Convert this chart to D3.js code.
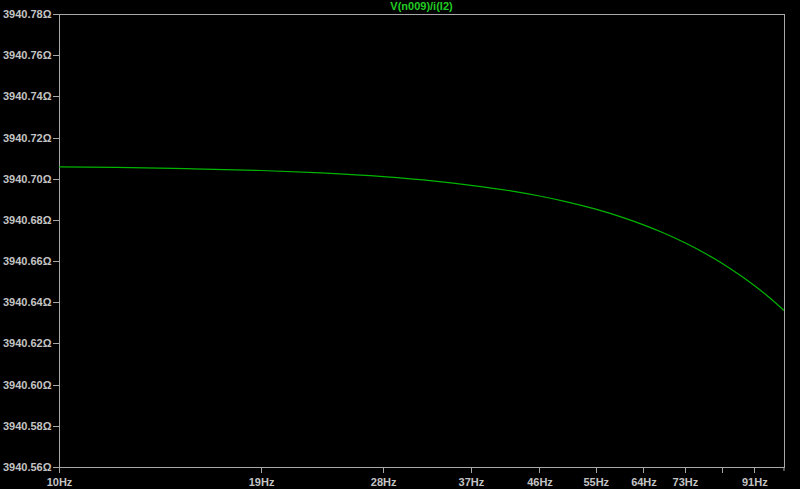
<!DOCTYPE html>
<html>
<head>
<meta charset="utf-8">
<script src="https://cdn.jsdelivr.net/npm/d3@7"></script>
<style>
  html, body { margin: 0; padding: 0; background: #000; }
  svg { display: block; }
  text { font-family: "Liberation Sans", Arial, sans-serif; font-weight: bold; font-size: 11px; }
</style>
</head>
<body>
<script>
// Data
const title = "V(n009)/i(I2)";
const freqs = [10, 12, 15, 19, 23, 28, 33, 37, 42, 46, 50, 55, 60, 64, 68, 73, 78, 82, 87, 91, 95, 100];
const impedance = [3940.7058, 3940.7055, 3940.7049, 3940.7040, 3940.7028, 3940.7010, 3940.6988, 3940.6968,
                   3940.6941, 3940.6916, 3940.6889, 3940.6852, 3940.6811, 3940.6776, 3940.6739, 3940.6689,
                   3940.6636, 3940.6591, 3940.6531, 3940.6481, 3940.6429, 3940.6360];
const xTicks = [10, 19, 28, 37, 46, 55, 64, 73, 82, 91];
const xTickLabels = ["10Hz", "19Hz", "28Hz", "37Hz", "46Hz", "55Hz", "64Hz", "73Hz", "", "91Hz"];
const yTicks = [3940.56, 3940.58, 3940.60, 3940.62, 3940.64, 3940.66, 3940.68, 3940.70, 3940.72, 3940.74, 3940.76, 3940.78];

const W = 800, H = 489;
const m = { left: 59, right: 16, top: 14, bottom: 22 };
const axisColor = "#a8a8a8", textColor = "#c4c4c4", lineColor = "#00b400";

const svg = d3.select("body").append("svg").attr("width", W).attr("height", H);
svg.append("rect").attr("width", W).attr("height", H).attr("fill", "#000");

const x = d3.scaleLog().domain([10, 100]).range([m.left, W - m.right]);
const y = d3.scaleLinear().domain([3940.56, 3940.78]).range([H - m.bottom, m.top]);

// Frame
svg.append("path")
  .attr("d", `M${m.left},${m.top}H${W - m.right}V${H - m.bottom}H${m.left}Z`)
  .attr("fill", "none").attr("stroke", axisColor).attr("stroke-width", 1)
  .attr("shape-rendering", "crispEdges");

// X axis
const xAxis = d3.axisBottom(x).tickValues(xTicks).tickSize(6).tickSizeOuter(0)
  .tickFormat((d, i) => xTickLabels[i]);
const gx = svg.append("g").attr("transform", `translate(0,${H - m.bottom})`).call(xAxis);
gx.select(".domain").attr("stroke", axisColor);
gx.selectAll(".tick line").attr("stroke", axisColor).attr("shape-rendering", "crispEdges");
gx.selectAll(".tick text").attr("fill", textColor).attr("dy", "0.95em")
  .style("font-family", "'Liberation Sans', Arial, sans-serif").style("font-weight", "bold").style("font-size", "11px");
// right border tick extension
svg.append("line").attr("x1", W - m.right).attr("x2", W - m.right)
  .attr("y1", H - m.bottom).attr("y2", H - m.bottom + 4).attr("stroke", axisColor);

// Y axis
const yAxis = d3.axisLeft(y).tickValues(yTicks).tickSize(6).tickSizeOuter(0)
  .tickFormat(d => d3.format(".2f")(d) + "Ω");
const gy = svg.append("g").attr("transform", `translate(${m.left},0)`).call(yAxis);
gy.select(".domain").attr("stroke", axisColor);
gy.selectAll(".tick line").attr("stroke", axisColor).attr("shape-rendering", "crispEdges");
gy.selectAll(".tick text").attr("fill", textColor).attr("x", -7.5)
  .style("font-family", "'Liberation Sans', Arial, sans-serif").style("font-weight", "bold").style("font-size", "11px");

// Title
svg.append("text").attr("x", (m.left + W - m.right) / 2).attr("y", 10)
  .attr("text-anchor", "middle").attr("fill", "#22cc22").text(title);

// Curve
const line = d3.line().x((d, i) => x(freqs[i])).y(d => y(d)).curve(d3.curveMonotoneX);
svg.append("path").datum(impedance)
  .attr("d", line).attr("fill", "none").attr("stroke", lineColor).attr("stroke-width", 1.2);
</script>
</body>
</html>
